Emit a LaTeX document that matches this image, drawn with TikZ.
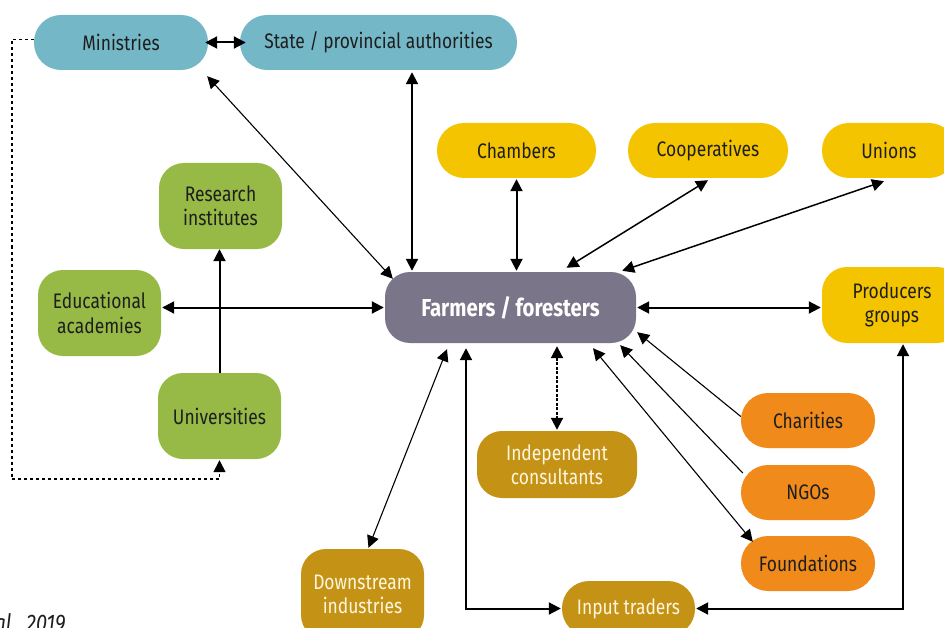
\documentclass[tikz,border=0pt]{standalone}
\usepackage{fontspec}
\setmainfont{Fira Sans}[FakeStretch=0.83]
\usetikzlibrary{arrows.meta,calc}
\definecolor{cblue}{HTML}{74B8C8}
\definecolor{cyel}{HTML}{F5C400}
\definecolor{cgreen}{HTML}{96BA45}
\definecolor{cgray}{HTML}{7A7589}
\definecolor{cgold}{HTML}{C49316}
\definecolor{corange}{HTML}{EF8A1B}
\definecolor{dtext}{HTML}{1E1E1E}
\definecolor{ltext}{HTML}{FFF6E0}
\begin{document}
\begin{tikzpicture}[x=1pt,y=-1pt,
  >={Triangle[length=12pt,width=12pt]},
  box/.style={rectangle, rounded corners=25pt, inner sep=0pt, align=center,
    font=\fontsize{21}{24.5}\selectfont, text=dtext},
  pill/.style={box, rounded corners=27pt, minimum height=55pt},
  sq/.style={box, minimum width=123pt, minimum height=86pt},
  bluebox/.style={pill, fill=cblue},
  yelbox/.style={pill, fill=cyel},
  greenbox/.style={sq, fill=cgreen},
  goldbox/.style={box, fill=cgold, text=ltext},
  orbox/.style={pill, fill=corange, minimum width=134pt},
  thk/.style={<->, line width=2pt},
  med/.style={<->, line width=1.5pt},
  thn/.style={<->, line width=1.1pt},
]
\useasboundingbox (0,0) rectangle (944,628);

% nodes
\node[bluebox, minimum width=174pt] (min) at (121,42.5) {Ministries};
\node[bluebox, minimum width=277pt] (sta) at (378.5,42.5) {State / provincial authorities};
\node[yelbox, minimum width=159pt] (cha) at (516.5,150.5) {Chambers};
\node[yelbox, minimum width=160pt] (coo) at (708,150.5) {Cooperatives};
\node[yelbox, minimum width=134pt] (uni) at (889,150.5) {Unions};
\node[greenbox] (res) at (220.5,206) {Research\\institutes};
\node[greenbox] (edu) at (99.5,313) {Educational\\academies};
\node[greenbox] (unv) at (219.5,416) {Universities};
\node[box, fill=cgray, text=white, minimum width=251pt, minimum height=71pt,
  font=\fontsize{24.5}{28}\selectfont\bfseries] (far) at (510.5,307.5) {Farmers / foresters};
\node[box, fill=cyel, minimum width=140pt, minimum height=76pt] (pro) at (892,305) {Producers\\groups};
\node[goldbox, minimum width=160pt, minimum height=67pt] (ind) at (557,464.5) {Independent\\consultants};
\node[goldbox, minimum width=123pt, minimum height=91pt] (dow) at (362.5,594.5) {Downstream\\industries};
\node[goldbox, rounded corners=27pt, minimum width=133pt, minimum height=55pt] (inp) at (628.5,608.5) {Input traders};
\node[orbox] (chr) at (808,420.5) {Charities};
\node[orbox] (ngo) at (808,492.5) {NGOs};
\node[orbox] (fou) at (808,563.5) {Foundations};
\node[anchor=base west, font=\fontsize{24}{28}\selectfont\itshape, text=dtext] (src) at (-9,631) {al., 2019};

% connectors
\draw[thk] ([xshift=-3pt]min.east) -- ([xshift=6pt]sta.west);
\draw[thn] ([xshift=-1pt,yshift=-6pt]min.south east) -- ([xshift=8pt,yshift=-7pt]far.north west);
\draw[thk] ([xshift=33.5pt,yshift=-2pt]sta.south) -- ([xshift=-98.5pt,yshift=1pt]far.north);
\draw[thk] ([yshift=-1pt]cha.south) -- ([yshift=1pt]cha.south |- far.north);
\draw[med] ([yshift=-2pt]coo.south) -- ([xshift=56pt,yshift=4pt]far.north);
\draw[med] ([xshift=-5pt,yshift=-3pt]uni.south) -- ([xshift=-14pt,yshift=1pt]far.north east);
\draw[thk] ([xshift=1pt]far.east) -- ([xshift=-1pt]far.east -| pro.west);
\draw[thk] ([xshift=-1pt]far.west) -- ([xshift=1pt]far.west -| edu.east);
\draw[->, line width=2pt] (unv.north) -- (unv.north |- res.south);
\draw[->, line width=1.5pt, dash pattern=on 3pt off 3pt]
  ([yshift=3pt]min.west) -- ++(-22,0) |- ([yshift=-20pt]unv.south) -- ([yshift=-1pt]unv.south);
\draw[thn] ([xshift=-63.5pt,yshift=-6pt]far.south) -- ([xshift=6pt,yshift=1pt]dow.north);
\draw[thk] ([xshift=-44.5pt,yshift=-5pt]far.south) |- ([xshift=-1pt]inp.west);
\draw[thk, dash pattern=on 3pt off 1.5pt] ([yshift=-3pt]far.south -| ind.north) -- ([yshift=1pt]ind.north);
\draw[->, line width=1.1pt] ([yshift=4pt]chr.west) -- ([xshift=1pt,yshift=11pt]far.south east);
\draw[->, line width=1.1pt] ([xshift=2pt,yshift=19.5pt]ngo.west) -- ([xshift=-16pt,yshift=-2pt]far.south east);
\draw[thn] ([xshift=82.5pt,yshift=-5pt]far.south) -- ([xshift=12pt,yshift=-6pt]fou.north west);
\draw[thk] ([xshift=11pt,yshift=-1pt]pro.south) |- ([xshift=1pt]inp.east);
\end{tikzpicture}
\end{document}
